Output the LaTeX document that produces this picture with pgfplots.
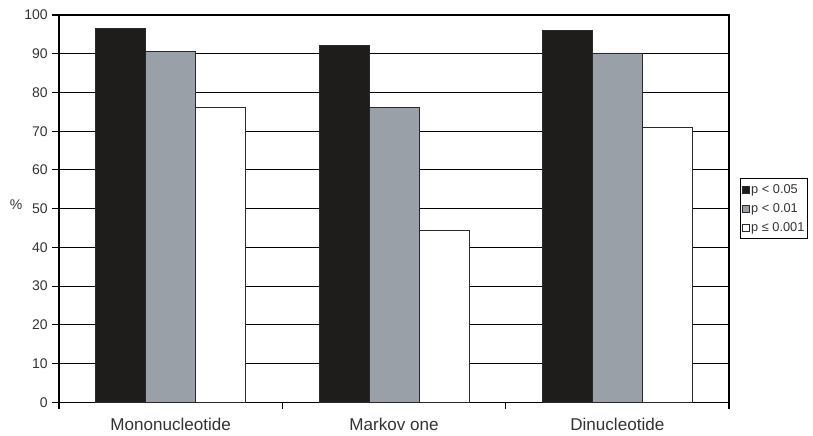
\documentclass[border=0pt]{standalone}
\usepackage{fontspec}
\setmainfont{Liberation Sans}
\usepackage{pgfplots}
\pgfplotsset{compat=1.18}
\definecolor{barblack}{HTML}{1E1D1B}
\definecolor{bargray}{HTML}{9AA0A8}
\definecolor{edgec}{HTML}{2A2A2A}
\definecolor{txt}{HTML}{333333}
\begin{document}
\begin{tikzpicture}
\begin{axis}[
  name=ax,
  scale only axis,
  width=502.5pt, height=290.5pt,
  xmin=-0.5, xmax=2.5,
  ymin=0, ymax=100,
  ybar=0pt, bar width=37.5pt,
  xtick={0,1,2},
  xticklabels={Mononucleotide, Markov one, Dinucleotide},
  minor xtick={-0.5,0.5,1.5,2.5},
  ytick={0,10,...,100},
  tick pos=left,
  tick align=outside,
  major x tick style={draw=none},
  minor tick length=5pt,
  major tick length=5pt,
  tick style={black, line width=0.8pt},
  ymajorgrids,
  grid style={black, line width=0.8pt},
  axis line style={black, line width=0.9pt},
  /pgf/number format/assume math mode=true,
  yticklabel style={font=\fontsize{10.5}{12}\selectfont, text=txt},
  xticklabel style={font=\fontsize{12.8}{14}\selectfont, text=txt, yshift=-3pt},
  ylabel={\%},
  ylabel style={rotate=-90, font=\fontsize{10.5}{12}\selectfont, text=txt, at={(rel axis cs:0,0.51)}, xshift=-24pt},
  legend style={at={(1.016,0.5)}, anchor=west, draw=black, line width=0.8pt,
    font=\fontsize{9.6}{11}\selectfont, text=txt, inner xsep=1.5pt, inner ysep=3pt, row sep=4pt,
    nodes={inner sep=1pt}},
  legend cell align=left,
  legend image code/.code={\draw[#1, line width=0.5pt] (0pt,-2.6pt) rectangle (5.2pt,2.6pt);},
]
\addplot[fill=barblack, draw=edgec, line width=0.6pt] coordinates {(0,96.6) (1,92.2) (2,96.1)};
\addplot[fill=bargray, draw=edgec, line width=0.6pt] coordinates {(0,90.7) (1,76.2) (2,90.2)};
\addplot[fill=white, draw=edgec, line width=0.6pt] coordinates {(0,76.2) (1,44.4) (2,71.0)};
\legend{p < 0.05, p < 0.01, p ≤ 0.001}
\end{axis}
\pgfresetboundingbox
\path[use as bounding box] ([xshift=-44.25pt,yshift=-24.75pt]ax.south west) rectangle ([xshift=63pt,yshift=11.25pt]ax.north east);
\end{tikzpicture}
\end{document}
